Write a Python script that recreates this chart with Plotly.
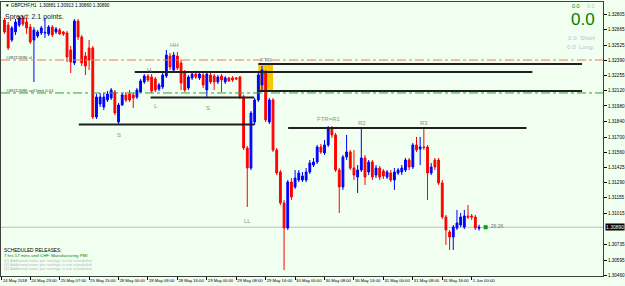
import plotly.graph_objects as go

# ---------------- data ----------------
opens = [1.32751, 1.32706, 1.32572, 1.32644, 1.32706, 1.32769, 1.32733, 1.32688, 1.32572, 1.32608,
         1.32635, 1.32635, 1.32626, 1.32688, 1.32644, 1.32662, 1.32644, 1.32635, 1.32482, 1.32365,
         1.32742, 1.32599, 1.32428, 1.32500, 1.32500, 1.31880, 1.31997, 1.31970, 1.32033, 1.32051,
         1.32105, 1.31835, 1.31988, 1.32078, 1.32087, 1.32078, 1.32060, 1.32105, 1.32195, 1.32248,
         1.32239, 1.32222, 1.32132, 1.32150, 1.32248, 1.32428, 1.32302, 1.32428, 1.32365, 1.32275,
         1.32141, 1.32231, 1.32266, 1.32231, 1.32257, 1.32123, 1.32257, 1.32248, 1.32195, 1.32248,
         1.32195, 1.32231, 1.32231, 1.32231, 1.32239, 1.32060, 1.31602, 1.31422, 1.31835, 1.32033,
         1.32168, 1.32284, 1.31835, 1.32033, 1.31584, 1.31386, 1.31108, 1.30883, 1.31296, 1.31252,
         1.31314, 1.31314, 1.31314, 1.31386, 1.31449, 1.31476, 1.31611, 1.31557, 1.31629, 1.31782,
         1.31719, 1.31404, 1.31252, 1.31521, 1.31566, 1.31422, 1.31341, 1.31404, 1.31512, 1.31386,
         1.31476, 1.31359, 1.31422, 1.31395, 1.31341, 1.31377, 1.31314, 1.31377, 1.31386, 1.31404,
         1.31494, 1.31431, 1.31629, 1.31593, 1.31611, 1.31611, 1.31377, 1.31494, 1.31494, 1.31287,
         1.30982, 1.30847, 1.30802, 1.30883, 1.30910, 1.30892, 1.30991, 1.30991, 1.30982, 1.30881]
highs = [1.32769, 1.32733, 1.32697, 1.32760, 1.32787, 1.32787, 1.32769, 1.32715, 1.32688, 1.32662,
         1.32697, 1.32769, 1.32706, 1.32706, 1.32688, 1.32680, 1.32653, 1.32653, 1.32518, 1.32760,
         1.32760, 1.32617, 1.32464, 1.32572, 1.32518, 1.32087, 1.32096, 1.32096, 1.32114, 1.32141,
         1.32123, 1.32006, 1.32096, 1.32105, 1.32123, 1.32096, 1.32141, 1.32222, 1.32266, 1.32266,
         1.32266, 1.32239, 1.32186, 1.32275, 1.32482, 1.32455, 1.32464, 1.32464, 1.32392, 1.32302,
         1.32257, 1.32284, 1.32284, 1.32284, 1.32275, 1.32275, 1.32275, 1.32266, 1.32257, 1.32266,
         1.32248, 1.32239, 1.32248, 1.32239, 1.32248, 1.32078, 1.31620, 1.31934, 1.32051, 1.32275,
         1.32338, 1.32302, 1.32051, 1.32051, 1.31602, 1.31404, 1.31135, 1.31314, 1.31332, 1.31404,
         1.31404, 1.31386, 1.31422, 1.31494, 1.31512, 1.31629, 1.31638, 1.31674, 1.31799, 1.31799,
         1.31737, 1.31422, 1.31539, 1.31719, 1.31584, 1.31584, 1.31449, 1.31782, 1.31539, 1.31494,
         1.31494, 1.31449, 1.31440, 1.31413, 1.31404, 1.31404, 1.31422, 1.31422, 1.31449, 1.31512,
         1.31512, 1.31647, 1.31701, 1.31701, 1.31782, 1.31629, 1.31467, 1.31512, 1.31512, 1.31314,
         1.31000, 1.30865, 1.30910, 1.31045, 1.31018, 1.31045, 1.31090, 1.31009, 1.31000, 1.30913]
lows = [1.32626, 1.32482, 1.32554, 1.32617, 1.32688, 1.32697, 1.32626, 1.32536, 1.32195, 1.32590,
        1.32617, 1.32590, 1.32608, 1.32599, 1.32626, 1.32617, 1.32608, 1.32374, 1.32275, 1.32347,
        1.32572, 1.32338, 1.32257, 1.32302, 1.31862, 1.31862, 1.31970, 1.31943, 1.32015, 1.32033,
        1.31898, 1.31808, 1.31979, 1.32015, 1.32015, 1.31961, 1.32042, 1.32096, 1.32177, 1.32195,
        1.32096, 1.32105, 1.32114, 1.32132, 1.32231, 1.32302, 1.32284, 1.32302, 1.32123, 1.32105,
        1.32123, 1.32213, 1.32222, 1.32213, 1.32141, 1.32060, 1.32177, 1.32123, 1.32177, 1.32105,
        1.32177, 1.32195, 1.32195, 1.32213, 1.32042, 1.31584, 1.31072, 1.31404, 1.31808, 1.32015,
        1.32105, 1.31835, 1.31817, 1.31566, 1.31359, 1.31090, 1.30506, 1.30865, 1.31135, 1.31234,
        1.31296, 1.31296, 1.31296, 1.31368, 1.31431, 1.31458, 1.31548, 1.31539, 1.31611, 1.31692,
        1.31386, 1.31018, 1.31225, 1.31494, 1.31404, 1.31314, 1.31198, 1.31386, 1.31270, 1.31359,
        1.31314, 1.31332, 1.31314, 1.31323, 1.31323, 1.31296, 1.31225, 1.31359, 1.31359, 1.31386,
        1.31404, 1.31413, 1.31566, 1.31449, 1.31584, 1.31135, 1.31359, 1.31404, 1.31270, 1.30964,
        1.30731, 1.30686, 1.30686, 1.30865, 1.30892, 1.30874, 1.30964, 1.30955, 1.30865, 1.30860]
closes = [1.32644, 1.32500, 1.32680, 1.32733, 1.32769, 1.32715, 1.32680, 1.32554, 1.32662, 1.32644,
          1.32680, 1.32640, 1.32688, 1.32617, 1.32671, 1.32626, 1.32626, 1.32419, 1.32374, 1.32742,
          1.32599, 1.32365, 1.32338, 1.32392, 1.31880, 1.32060, 1.32060, 1.32060, 1.32087, 1.32123,
          1.31916, 1.31988, 1.32078, 1.32033, 1.32033, 1.32051, 1.32123, 1.32204, 1.32248, 1.32213,
          1.32114, 1.32123, 1.32168, 1.32257, 1.32437, 1.32329, 1.32437, 1.32320, 1.32186, 1.32123,
          1.32239, 1.32266, 1.32239, 1.32266, 1.32168, 1.32266, 1.32195, 1.32195, 1.32239, 1.32213,
          1.32231, 1.32204, 1.32213, 1.32222, 1.32060, 1.31602, 1.31422, 1.31916, 1.32033, 1.32257,
          1.32302, 1.31853, 1.32033, 1.31584, 1.31377, 1.31108, 1.30883, 1.31296, 1.31162, 1.31332,
          1.31377, 1.31350, 1.31386, 1.31467, 1.31476, 1.31611, 1.31566, 1.31629, 1.31782, 1.31719,
          1.31404, 1.31252, 1.31521, 1.31566, 1.31422, 1.31359, 1.31404, 1.31512, 1.31341, 1.31476,
          1.31341, 1.31422, 1.31341, 1.31350, 1.31386, 1.31314, 1.31386, 1.31404, 1.31422, 1.31494,
          1.31431, 1.31629, 1.31584, 1.31611, 1.31606, 1.31377, 1.31431, 1.31431, 1.31287, 1.30982,
          1.30865, 1.30802, 1.30892, 1.30928, 1.30982, 1.30991, 1.30982, 1.30982, 1.30883, 1.30890]
bars = list(range(len(opens)))

x_tick_bars = [-0.7, 7, 15, 23, 31, 39, 47, 55, 63, 71, 79, 87, 95, 103, 111, 119, 127]
x_tick_labels = ["24 May 2018", "24 May 23:00", "25 May 07:00", "25 May 15:00", "28 May 00:00",
                 "28 May 08:00", "28 May 16:00", "29 May 00:00", "29 May 08:00", "29 May 16:00",
                 "30 May 00:00", "30 May 08:00", "30 May 16:00", "31 May 00:00", "31 May 08:00",
                 "31 May 16:00", "1 Jun 00:00"]
y_tick_vals = [1.32805, 1.32665, 1.32525, 1.32390, 1.32255, 1.32120, 1.31980, 1.31840, 1.31700,
               1.31560, 1.31425, 1.31290, 1.31155, 1.31015, 1.30735, 1.30595, 1.30460]
y_tick_labels = ["%.5f" % v for v in y_tick_vals]

bid_price = 1.30890
sl_price = 1.32392
sell_limit_price = 1.32096

# drawn levels: (price, start bar, end bar)
level_lines = [(1.32356, 69.0, 157.0), (1.32284, 35.4, 143.5), (1.32114, 69.0, 157.0),
               (1.32056, 39.7, 67.9), (1.31812, 20.2, 67.9), (1.31782, 77.1, 141.9)]
ftr_zone = (69.0, 73.0, 1.32105, 1.32356)

level_texts = ["HH", "H", "L", "S", "S", "FTR", "FTR=R1", "R2", "R3", "LL"]
level_text_bars = [46.2, 39.2, 41.3, 55.2, 31.0, 71.1, 88.2, 97.2, 114.0, 66.0]
level_text_prices = [1.32530, 1.32305, 1.31975, 1.31965, 1.31722, 1.32392, 1.31865, 1.31822, 1.31822, 1.30950]

# ---------------- layout geometry ----------------
W, H = 625, 286
ML, MR, MT, MB = 0, 21, 2, 10
PW, PH = W - ML - MR, H - MT - MB


def px(x):
    return (x - ML) / PW


def py(y):
    return (H - MB - y) / PH


BG = "#F0FFF0"
fig = go.Figure()
fig.add_trace(go.Candlestick(
    x=bars, open=opens, high=highs, low=lows, close=closes,
    increasing=dict(line=dict(color="#0000FF", width=1), fillcolor="#0000FF"),
    decreasing=dict(line=dict(color="#FF0000", width=1), fillcolor="#FF0000"),
    whiskerwidth=0, hoverinfo="skip", showlegend=False))

shapes = []
# bid line
shapes.append(dict(type="line", xref="paper", x0=0, x1=1, yref="y", y0=bid_price, y1=bid_price,
                   line=dict(color="#C0C0C0", width=1), layer="below"))
# order lines
shapes.append(dict(type="line", xref="paper", x0=0, x1=1, yref="y", y0=sl_price, y1=sl_price,
                   line=dict(color="#F07858", width=1, dash="dashdot")))
shapes.append(dict(type="line", xref="paper", x0=0, x1=1, yref="y", y0=sell_limit_price, y1=sell_limit_price,
                   line=dict(color="#3A9A3A", width=1, dash="dashdot")))
# FTR zone
shapes.append(dict(type="rect", xref="x", yref="y", x0=ftr_zone[0], x1=ftr_zone[1], y0=ftr_zone[2], y1=ftr_zone[3],
                   fillcolor="#F5C800", line=dict(width=0), layer="below"))
for p, b0, b1 in level_lines:
    shapes.append(dict(type="line", xref="x", yref="y", x0=b0, x1=b1, y0=p, y1=p,
                       line=dict(color="#202020", width=2)))

ann = []
for t, b, p in zip(level_texts, level_text_bars, level_text_prices):
    ann.append(dict(x=b, y=p, xref="x", yref="y", text=t, showarrow=False,
                    font=dict(size=6, color="#909090", family="Arial")))


def txt(x, y, s, size, color, anchor="left"):
    ann.append(dict(x=px(x), y=py(y), xref="paper", yref="paper", text=s, showarrow=False,
                    xanchor=anchor, yanchor="middle", borderpad=0,
                    font=dict(size=size, color=color, family="Arial")))


txt(3, 5, "▼ GBPCHF,H1  1.30881 1.30913 1.30860 1.30890", 4.6, "#000000")
txt(3, 17, "Spread: 2.1 points.", 7, "#202020")
txt(4, 57, "#49212696 sl", 4.3, "#404040")
txt(4, 90, "#49212686 sell limit 0.01", 4.3, "#404040")
txt(582, 6, "0.0", 5.5, "#008000", "right")
txt(597, 6, "0.0", 5.5, "#B0C4DE", "right")
txt(597, 19.5, "0.0", 17, "#008000", "right")
txt(597, 37, "0.0  Short", 6.2, "#B0C4DE", "right")
txt(597, 47, "0.0  Long:", 6.2, "#B0C4DE", "right")
txt(2, 250.5, "SCHEDULED RELEASES:", 4.8, "#000000")
txt(2, 255.5, "7 hrs 57 mins until CHF: Manufacturing PMI", 4.3, "#008000")
txt(2, 260.3, "(2) Additional news per settings is not scheduled", 4.1, "#B8B8B8")
txt(2, 264.6, "(3) Additional news per settings is not scheduled", 4.1, "#B8B8B8")
txt(2, 268.9, "(4) Additional news per settings is not scheduled", 4.1, "#B8B8B8")
txt(483, 226, "←  26:26", 5, "#707070")

# current price tag on axis
ann.append(dict(x=1, y=bid_price, xref="paper", yref="y", text="1.30890", showarrow=False,
                xanchor="left", yanchor="middle", xshift=2, bgcolor="#000000", borderpad=0,
                font=dict(size=5, color="#FFFFFF", family="Arial")))

# timer marker
fig.add_trace(go.Scatter(x=[130.8], y=[bid_price], mode="markers",
                         marker=dict(symbol="square", size=4, color="#00A000"),
                         hoverinfo="skip", showlegend=False))

fig.update_layout(
    width=W, height=H, margin=dict(l=ML, r=MR, t=MT, b=MB),
    paper_bgcolor=BG, plot_bgcolor=BG,
    shapes=shapes, annotations=ann, showlegend=False,
    xaxis=dict(range=[-0.95, 162.7], tickmode="array", tickvals=x_tick_bars, ticktext=x_tick_labels,
               ticks="outside", ticklen=3, tickcolor="#000000", ticklabelposition="outside right",
               tickangle=0, tickfont=dict(size=4.2, color="#000000", family="Arial"),
               showgrid=False, zeroline=False, showline=True, linecolor="#404040", linewidth=1,
               mirror=True, rangeslider=dict(visible=False)),
    yaxis=dict(range=[1.30452, 1.32913], side="right", tickmode="array", tickvals=y_tick_vals,
               ticktext=y_tick_labels, ticks="outside", ticklen=3, tickcolor="#000000",
               tickfont=dict(size=4.6, color="#000000", family="Arial"),
               showgrid=False, zeroline=False, showline=True, linecolor="#404040", linewidth=1,
               mirror=True),
)

fig.write_html("out.html")
